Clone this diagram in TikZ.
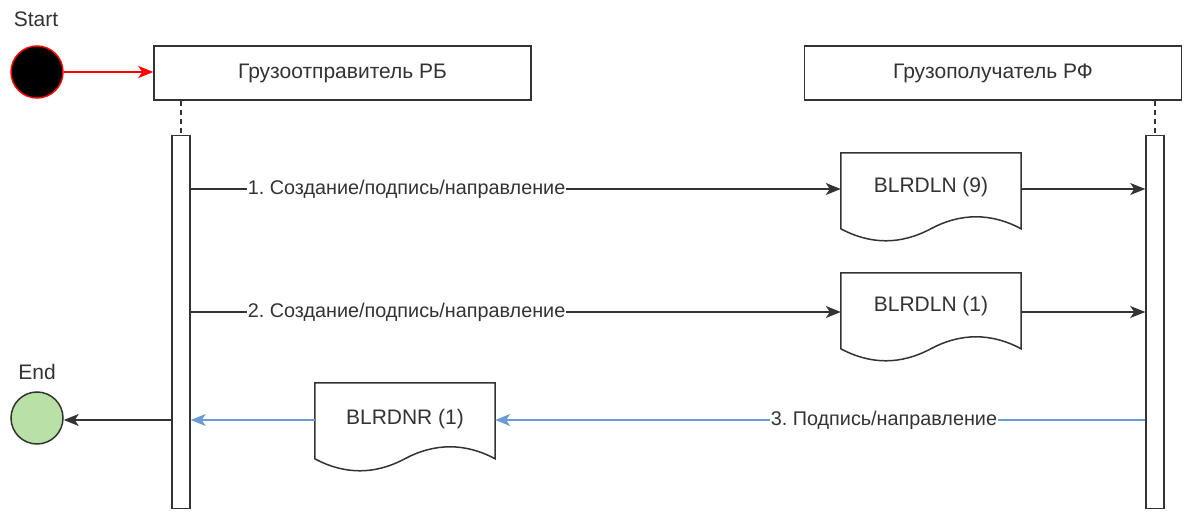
\documentclass[tikz,border=0pt]{standalone}
\usepackage{fontspec}
\setmainfont{Liberation Sans}
\usetikzlibrary{arrows.meta,calc}
\definecolor{lineblue}{HTML}{6C9BD2}
\definecolor{endgreen}{HTML}{B9E0A5}
\definecolor{dgray}{HTML}{333333}
\begin{document}
\frenchspacing
\begin{tikzpicture}[x=1pt,y=-1pt,
  every node/.style={font=\fontsize{21}{25}\selectfont, text=dgray},
  arr/.style={-{Stealth[length=15pt,width=12pt,inset=4pt]}, line width=1.3pt},
  actor/.style={draw=dgray, line width=1.5pt, fill=white, minimum width=377pt, minimum height=54pt, inner sep=0pt},
  actbar/.style={draw=dgray, line width=1.5pt, fill=white, minimum width=18pt, minimum height=373pt, inner sep=0pt},
  life/.style={dgray, line width=1.5pt, dash pattern=on 5pt off 4pt},
  docbox/.style={minimum width=180pt, minimum height=70pt, inner sep=0pt},
  docline/.style={draw=dgray, line width=1.5pt, fill=white},
  lbl/.style={fill=white, inner sep=1pt, font=\fontsize{19.8}{23}\selectfont}
]
\useasboundingbox (0,0) rectangle (1187,513);

% actors
\node[actor] (a1) at (342.5,73) {Грузоотправитель РБ};
\node[actor] (a2) at (993,73) {Грузополучатель РФ};
% activation bars
\node[actbar] (b1) at (181,322) {};
\node[actbar] (b2) at (1155,322) {};
\draw[life] (a1.south -| b1) -- (b1.north);
\draw[life] (a2.south -| b2) -- (b2.north);

% start / end
\node[circle, fill=black, draw=red, line width=1.5pt, minimum size=52pt, inner sep=0pt] (st) at (37,72) {};
\node (stl) at (36,19) {Start};
\node[circle, fill=endgreen, draw=dgray, line width=1.5pt, minimum size=52pt, inner sep=0pt] (en) at (37,418) {};
\node (enl) at (37,372) {End};

\draw[arr, red] (st) -- (a1.west |- st);

% document shapes
\newcommand{\docshape}[1]{%
  \path[docline] (#1.north west) -- (#1.north east) -- ++(0,76)
    .. controls ++(-30,-16) and ($(#1.north west)+(120,60)$) .. ($(#1.north west)+(90,76)$)
    .. controls ++(-30,16) and ($(#1.north west)+(30,92)$) .. ($(#1.north west)+(0,76)$) -- cycle;}

\node[docbox] (d1) at (931,188) {};
\docshape{d1}
\node at (931,187) {BLRDLN (9)};

\node[docbox] (d2) at (931,308) {};
\docshape{d2}
\node at (931,306) {BLRDLN (1)};

\node[docbox] (d3) at (405,418) {};
\docshape{d3}
\node at (405,419) {BLRDNR (1)};

% messages
\coordinate (m1) at (181,189);
\draw[arr, dgray] (b1.east |- m1) -- node[lbl, pos=0.332] {1. Создание/подпись/направление} (d1.west |- m1);
\draw[arr, dgray] (d1.east |- m1) -- (b2.west |- m1);

\coordinate (m2) at (181,312);
\draw[arr, dgray] (b1.east |- m2) -- node[lbl, pos=0.332] {2. Создание/подпись/направление} (d2.west |- m2);
\draw[arr, dgray] (d2.east |- m2) -- (b2.west |- m2);

\coordinate (m3) at (181,420);
\draw[arr, lineblue] (b2.west |- m3) -- node[lbl, pos=0.402] {3. Подпись/направление} (d3.east |- m3);
\draw[arr, lineblue] (d3.west |- m3) -- (b1.east |- m3);
\draw[arr, dgray] (b1.west |- m3) -- (en.east |- m3);
\end{tikzpicture}
\end{document}
